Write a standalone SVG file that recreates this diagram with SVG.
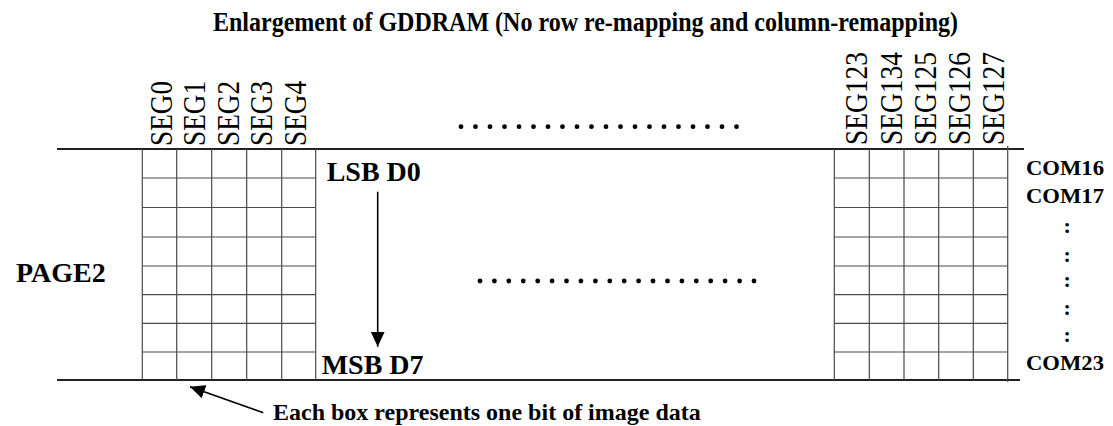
<svg xmlns="http://www.w3.org/2000/svg" width="1113" height="426" viewBox="0 0 1113 426">
<style>
.b{font-family:"Liberation Serif","Times New Roman",serif;font-weight:bold;fill:#000}
.seg{font-family:"Liberation Serif","Times New Roman",serif;font-size:31px;fill:#000}
.g{stroke:#4a4a4a;stroke-width:1.2;fill:none}
.rule{stroke:#222;stroke-width:1.8;fill:none}
.dot{fill:#000}
</style>
<defs>
<marker id="ah" markerWidth="15" markerHeight="14" refX="15" refY="7" orient="auto" markerUnits="userSpaceOnUse" viewBox="0 0 15 14">
<path d="M0,0 L15,7 L0,14 Z" fill="#000"/>
</marker>
</defs>
<rect width="1113" height="426" fill="#fff"/>
<text class="b" x="213" y="31" font-size="27" textLength="745" lengthAdjust="spacingAndGlyphs">Enlargement of GDDRAM (No row re-mapping and column-remapping)</text>

<g id="rules">
<line class="rule" x1="57" y1="149" x2="1024" y2="149"/>
<line class="rule" x1="57" y1="380" x2="1020" y2="380"/>
</g>

<g id="left-grid">
<path class="g" d="M142.3,149V380M176.7,149V380M211.7,149V380M246.7,149V380M281.7,149V380M315.7,149V380"/>
<path class="g" d="M142.3,178H315.7M142.3,207.5H315.7M142.3,237H315.7M142.3,266H315.7M142.3,294.7H315.7M142.3,323.3H315.7M142.3,352H315.7"/>
</g>

<g id="right-grid">
<path class="g" d="M834.3,149V380M869.3,149V380M904,149V380M938.7,149V380M973.3,149V380M1007.7,146V382"/>
<path class="g" d="M834.3,178H1007.7M834.3,207.5H1007.7M834.3,237H1007.7M834.3,266H1007.7M834.3,294.7H1007.7M834.3,323.3H1007.7M834.3,352H1007.7"/>
</g>

<g id="seg-left">
<text class="seg" x="171.5" y="146" transform="rotate(-90 171.5 146)" textLength="65" lengthAdjust="spacingAndGlyphs">SEG0</text>
<text class="seg" x="205" y="146" transform="rotate(-90 205 146)" textLength="65" lengthAdjust="spacingAndGlyphs">SEG1</text>
<text class="seg" x="238.5" y="146" transform="rotate(-90 238.5 146)" textLength="65" lengthAdjust="spacingAndGlyphs">SEG2</text>
<text class="seg" x="272" y="146" transform="rotate(-90 272 146)" textLength="65" lengthAdjust="spacingAndGlyphs">SEG3</text>
<text class="seg" x="305.5" y="146" transform="rotate(-90 305.5 146)" textLength="65" lengthAdjust="spacingAndGlyphs">SEG4</text>
</g>

<g id="seg-right">
<text class="seg" x="867.3" y="145" transform="rotate(-90 867.3 145)" textLength="93" lengthAdjust="spacingAndGlyphs">SEG123</text>
<text class="seg" x="901.7" y="145" transform="rotate(-90 901.7 145)" textLength="93" lengthAdjust="spacingAndGlyphs">SEG134</text>
<text class="seg" x="936" y="145" transform="rotate(-90 936 145)" textLength="93" lengthAdjust="spacingAndGlyphs">SEG125</text>
<text class="seg" x="970" y="145" transform="rotate(-90 970 145)" textLength="93" lengthAdjust="spacingAndGlyphs">SEG126</text>
<text class="seg" x="1004" y="145" transform="rotate(-90 1004 145)" textLength="93" lengthAdjust="spacingAndGlyphs">SEG127</text>
</g>

<g id="dots-top">
<circle class="dot" cx="461" cy="126.7" r="2.4"/><circle class="dot" cx="475.5" cy="126.7" r="2.4"/><circle class="dot" cx="490" cy="126.7" r="2.4"/><circle class="dot" cx="504.5" cy="126.7" r="2.4"/><circle class="dot" cx="519" cy="126.7" r="2.4"/><circle class="dot" cx="533.5" cy="126.7" r="2.4"/><circle class="dot" cx="548" cy="126.7" r="2.4"/><circle class="dot" cx="562.5" cy="126.7" r="2.4"/><circle class="dot" cx="577" cy="126.7" r="2.4"/><circle class="dot" cx="591.5" cy="126.7" r="2.4"/><circle class="dot" cx="606" cy="126.7" r="2.4"/><circle class="dot" cx="620.5" cy="126.7" r="2.4"/><circle class="dot" cx="635" cy="126.7" r="2.4"/><circle class="dot" cx="649.5" cy="126.7" r="2.4"/><circle class="dot" cx="664" cy="126.7" r="2.4"/><circle class="dot" cx="678.5" cy="126.7" r="2.4"/><circle class="dot" cx="693" cy="126.7" r="2.4"/><circle class="dot" cx="707.5" cy="126.7" r="2.4"/><circle class="dot" cx="722" cy="126.7" r="2.4"/><circle class="dot" cx="736.5" cy="126.7" r="2.4"/>
</g>
<g id="dots-mid">
<circle class="dot" cx="480" cy="281" r="2.4"/><circle class="dot" cx="494.4" cy="281" r="2.4"/><circle class="dot" cx="508.8" cy="281" r="2.4"/><circle class="dot" cx="523.3" cy="281" r="2.4"/><circle class="dot" cx="537.7" cy="281" r="2.4"/><circle class="dot" cx="552.1" cy="281" r="2.4"/><circle class="dot" cx="566.5" cy="281" r="2.4"/><circle class="dot" cx="580.9" cy="281" r="2.4"/><circle class="dot" cx="595.4" cy="281" r="2.4"/><circle class="dot" cx="609.8" cy="281" r="2.4"/><circle class="dot" cx="624.2" cy="281" r="2.4"/><circle class="dot" cx="638.6" cy="281" r="2.4"/><circle class="dot" cx="653" cy="281" r="2.4"/><circle class="dot" cx="667.5" cy="281" r="2.4"/><circle class="dot" cx="681.9" cy="281" r="2.4"/><circle class="dot" cx="696.3" cy="281" r="2.4"/><circle class="dot" cx="710.7" cy="281" r="2.4"/><circle class="dot" cx="725.1" cy="281" r="2.4"/><circle class="dot" cx="739.6" cy="281" r="2.4"/><circle class="dot" cx="754" cy="281" r="2.4"/>
</g>

<g id="page-label">
<text class="b" x="16" y="281.7" font-size="28">PAGE2</text>
</g>

<g id="bit-labels">
<text class="b" x="326.7" y="180.7" font-size="28">LSB D0</text>
<text class="b" x="321.7" y="374" font-size="28">MSB D7</text>
</g>

<g id="com-labels">
<text class="b" x="1026" y="175" font-size="20" textLength="78" lengthAdjust="spacingAndGlyphs">COM16</text>
<text class="b" x="1026" y="203.3" font-size="20" textLength="78" lengthAdjust="spacingAndGlyphs">COM17</text>
<text class="b" x="1063.5" y="233" font-size="22">:</text>
<text class="b" x="1063.5" y="262" font-size="22">:</text>
<text class="b" x="1063.5" y="287" font-size="22">:</text>
<text class="b" x="1063.5" y="315" font-size="22">:</text>
<text class="b" x="1063.5" y="342" font-size="22">:</text>
<text class="b" x="1026" y="370" font-size="20" textLength="78" lengthAdjust="spacingAndGlyphs">COM23</text>
</g>

<g id="note">
<text class="b" x="273" y="420" font-size="24">Each box represents one bit of image data</text>
</g>

<g id="connectors">
<line x1="377.7" y1="191.7" x2="377.7" y2="346.7" stroke="#000" stroke-width="1.6" marker-end="url(#ah)"/>
<line x1="263.3" y1="412.7" x2="190" y2="386.7" stroke="#000" stroke-width="1.6" marker-end="url(#ah)"/>
</g>
</svg>
